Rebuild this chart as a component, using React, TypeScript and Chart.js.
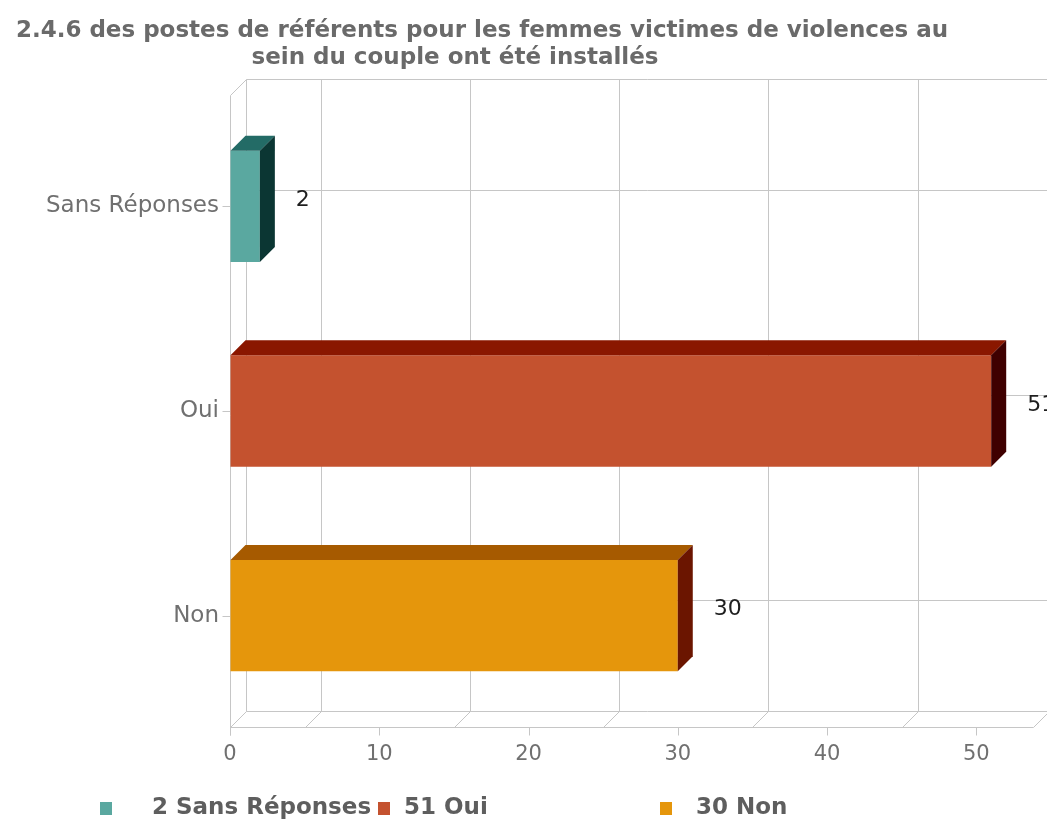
import React, { useEffect, useRef } from "react";
import { Chart, registerables } from "chart.js";

Chart.register(...registerables);

// ---- data ----
const categories = ["Sans Réponses", "Oui", "Non"];
const values = [2, 51, 30];
const xTicks = [0, 10, 20, 30, 40, 50];
const xMax = 53.8;
const titleLines = [
  "2.4.6 des postes de référents pour les femmes victimes de violences au",
  "sein du couple ont été installés",
];
const legendLabels = ["2 Sans Réponses", "51 Oui", "30 Non"];

// ---- styles ----
const frontColors = ["#5aa8a0", "#c4522f", "#e5960c"];
const topColors = ["#236b66", "#8a1700", "#a65a00"];
const sideColors = ["#0b3633", "#3f0000", "#6b1500"];
const GRID = "#c6c6c6";
const DEPTH_BAR = 15;
const DEPTH_FRAME = 16;
const FRAME_EXT = 9;
const TITLE_CENTERS = [482, 455];
const TITLE_Y = [31, 58];
const LEGEND_BOX_X = [100, 378, 660];
const LEGEND_TEXT_X = [152, 404, 696];
const LEGEND_Y = 808;

const threeD = {
  id: "threeD",
  beforeDatasetsDraw(chart: any) {
    const { ctx, chartArea: a, scales } = chart;
    const xs = scales.x;
    const ys = scales.y;
    const fl = a.left;
    const fr = a.right;
    const ft = a.top - FRAME_EXT;
    const fb = a.bottom + FRAME_EXT;
    const d = DEPTH_FRAME;
    ctx.save();
    ctx.strokeStyle = GRID;
    ctx.lineWidth = 1;
    const line = (x1: number, y1: number, x2: number, y2: number) => {
      ctx.beginPath();
      ctx.moveTo(Math.round(x1) + 0.5, Math.round(y1) + 0.5);
      ctx.lineTo(Math.round(x2) + 0.5, Math.round(y2) + 0.5);
      ctx.stroke();
    };
    // back wall horizontal lines at categories
    categories.forEach((_, i) => {
      const py = ys.getPixelForValue(i);
      line(fl + d, py - d, fr + d + 20, py - d);
    });
    // back wall top and floor
    line(fl + d, ft - d, fr + d + 20, ft - d);
    line(fl + d, fb - d, fr + d + 20, fb - d);
    line(fl, fb, fr, fb);
    line(fr, fb, fr + d, fb - d);
    // left wall
    line(fl, ft, fl, fb + 8);
    line(fl + d, ft - d, fl + d, fb - d);
    line(fl, ft, fl + d, ft - d);
    line(fl, fb, fl + d, fb - d);
    // vertical grid lines (half steps)
    const step = xTicks[1] - xTicks[0];
    xTicks.forEach((t) => {
      const v = t + step / 2;
      if (v >= xMax) return;
      const px = xs.getPixelForValue(v);
      line(px + d, ft - d, px + d, fb - d);
      line(px, fb, px + d, fb - d);
    });
    // tick marks
    xTicks.forEach((t) => {
      const px = xs.getPixelForValue(t);
      line(px, fb, px, fb + 8);
    });
    categories.forEach((_, i) => {
      const py = ys.getPixelForValue(i);
      line(fl - 8, py, fl, py);
    });
    ctx.restore();
  },
  afterDatasetsDraw(chart: any) {
    const { ctx } = chart;
    const meta = chart.getDatasetMeta(0);
    const d = DEPTH_BAR;
    ctx.save();
    meta.data.forEach((el: any, i: number) => {
      const p = el.getProps(["x", "y", "base", "height"], true);
      const top = p.y - p.height / 2;
      const bot = p.y + p.height / 2;
      // top face
      ctx.fillStyle = topColors[i];
      ctx.beginPath();
      ctx.moveTo(p.base, top);
      ctx.lineTo(p.base + d, top - d);
      ctx.lineTo(p.x + d, top - d);
      ctx.lineTo(p.x, top);
      ctx.closePath();
      ctx.fill();
      // side face
      ctx.fillStyle = sideColors[i];
      ctx.beginPath();
      ctx.moveTo(p.x, top);
      ctx.lineTo(p.x + d, top - d);
      ctx.lineTo(p.x + d, bot - d);
      ctx.lineTo(p.x, bot);
      ctx.closePath();
      ctx.fill();
      // value label
      ctx.fillStyle = "#1e1e1e";
      ctx.font = "22px 'DejaVu Sans'";
      ctx.textAlign = "left";
      ctx.textBaseline = "middle";
      ctx.fillText(String(values[i]), p.x + 36, p.y - 6);
    });
    ctx.restore();
  },
  afterDraw(chart: any) {
    const { ctx } = chart;
    ctx.save();
    ctx.fillStyle = "#6a6a6a";
    ctx.font = "bold 23px 'DejaVu Sans'";
    ctx.textAlign = "center";
    ctx.textBaseline = "middle";
    titleLines.forEach((t, i) => ctx.fillText(t, TITLE_CENTERS[i], TITLE_Y[i]));
    // legend
    ctx.textAlign = "left";
    ctx.font = "bold 23px 'DejaVu Sans'";
    legendLabels.forEach((t, i) => {
      ctx.fillStyle = frontColors[i];
      ctx.fillRect(LEGEND_BOX_X[i], LEGEND_Y - 6, 12, 13);
      ctx.fillStyle = "#5e5e5e";
      ctx.fillText(t, LEGEND_TEXT_X[i], LEGEND_Y);
    });
    ctx.restore();
  },
};

export default function App() {
  const ref = useRef<HTMLCanvasElement | null>(null);
  useEffect(() => {
    document.body.style.margin = "0";
    const canvas = ref.current!;
    const chart = new Chart(canvas, {
      type: "bar",
      data: {
        labels: categories,
        datasets: [
          {
            data: values,
            backgroundColor: frontColors,
            borderWidth: 0,
            barPercentage: 0.68,
            categoryPercentage: 0.8,
          },
        ],
      },
      options: {
        indexAxis: "y",
        responsive: false,
        animation: false,
        layout: { padding: { top: 104, right: 14, bottom: 0, left: 0 } },
        plugins: {
          legend: { display: false },
          tooltip: { enabled: false },
          title: { display: false },
        },
        scales: {
          x: {
            min: 0,
            max: xMax,
            afterBuildTicks(axis: any) {
              axis.ticks = xTicks.map((v) => ({ value: v }));
            },
            afterFit(axis: any) {
              axis.height = 106;
            },
            grid: { color: "rgba(0,0,0,0)", drawTicks: true, tickLength: 8 },
            border: { display: false },
            ticks: {
              color: "#707070",
              font: { family: "'DejaVu Sans'", size: 21 },
              padding: 16,
              maxRotation: 0,
            },
          },
          y: {
            afterFit(axis: any) {
              axis.width = 230;
            },
            grid: { color: "rgba(0,0,0,0)", drawTicks: true, tickLength: 8 },
            border: { display: false },
            ticks: {
              color: "#707070",
              font: { family: "'DejaVu Sans'", size: 23 },
              padding: 3,
            },
          },
        },
      } as any,
      plugins: [threeD],
    });
    return () => chart.destroy();
  }, []);
  return (
    <div style={{ width: 1047, height: 824, background: "#fff" }}>
      <canvas ref={ref} width={1047} height={824} style={{ display: "block" }} />
    </div>
  );
}
